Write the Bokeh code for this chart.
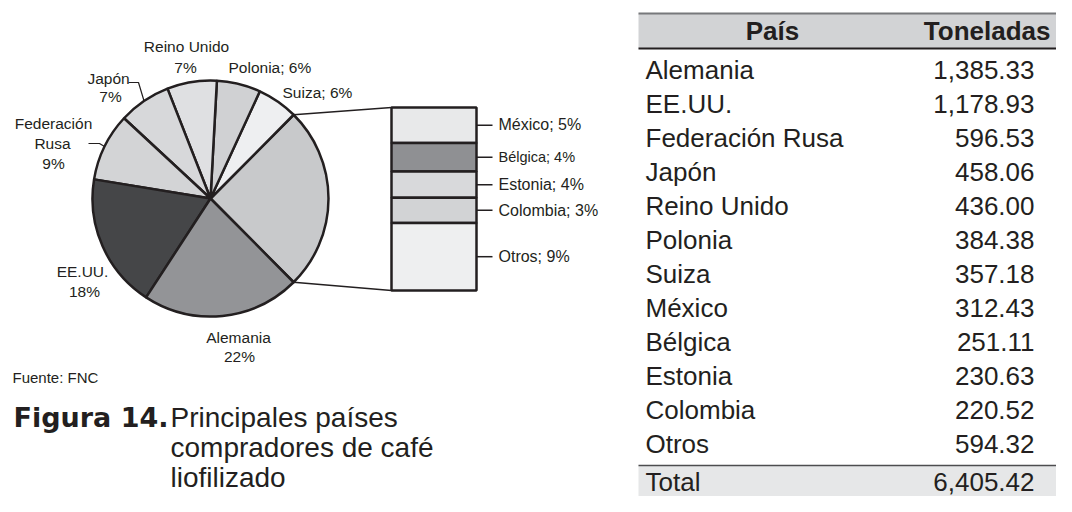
import math
from bokeh.plotting import figure
from bokeh.models import Range1d, ColumnDataSource
from bokeh.core.properties import value
from bokeh.embed import file_html
from bokeh.resources import INLINE

# ---------------- data ----------------
paises = ["Alemania", "EE.UU.", "Federación Rusa", "Japón", "Reino Unido", "Polonia",
          "Suiza", "México", "Bélgica", "Estonia", "Colombia", "Otros"]
toneladas = [1385.33, 1178.93, 596.53, 458.06, 436.00, 384.38,
             357.18, 312.43, 251.11, 230.63, 220.52, 594.32]
# slices of the pie, anticlockwise after the grouped slice
pie_paises = ["Suiza", "Polonia", "Reino Unido", "Japón", "Federación Rusa", "EE.UU.", "Alemania"]
# slices shown in the bar (top to bottom)
grupo_paises = ["México", "Bélgica", "Estonia", "Colombia", "Otros"]

pie_colors = {"grupo": "#c8c9cb", "Suiza": "#eeeff1", "Polonia": "#d0d1d3",
              "Reino Unido": "#dfe0e2", "Japón": "#d7d8da", "Federación Rusa": "#d3d4d6",
              "EE.UU.": "#454648", "Alemania": "#939497"}
bar_colors = {"México": "#e8e9ea", "Bélgica": "#8f9093", "Estonia": "#d8d9db",
              "Colombia": "#d2d3d5", "Otros": "#eeeff0"}

INK = "#231f20"
FONT = "Liberation Sans"

W, H = 1056, 496
p = figure(width=W, height=H, x_range=Range1d(0, W), y_range=Range1d(0, H),
           output_backend="svg", toolbar_location=None, min_border=0,
           x_axis_type=None, y_axis_type=None)
p.grid.visible = False
p.outline_line_color = None
p.background_fill_color = "white"
p.border_fill_color = "white"


def Y(ry):
    return H - ry


def txt(xs, caps, texts, size, align="left", bold=False, font=FONT):
    # y given at the cap centre of the text
    src = ColumnDataSource(dict(x=list(xs), y=[Y(c - 0.02 * size) for c in caps], t=list(texts)))
    p.text(x="x", y="y", text="t", source=src, text_font=value(font),
           text_font_size=f"{size}px", text_align=align, text_baseline="alphabetic",
           text_font_style="bold" if bold else "normal", text_color=INK)


val = dict(zip(paises, toneladas))
total = sum(toneladas)
pct = {k: round(v / total * 100) for k, v in val.items()}

# ---------------- pie ----------------
cx, cy, R = 210, Y(198), 118
grp = sum(val[n] for n in grupo_paises)
seq = [("grupo", grp)] + [(n, val[n]) for n in pie_paises]
a = -grp / total * math.pi
starts, ends, cols, mids = [], [], [], {}
for n, v in seq:
    da = v / total * 2 * math.pi
    starts.append(a)
    ends.append(a + da)
    cols.append(pie_colors[n])
    mids[n] = a + da / 2
    a += da
p.wedge(x=cx, y=cy, radius=R, start_angle=starts, end_angle=ends, fill_color=cols,
        line_color=INK, line_width=2.5, direction="anticlock")

# connectors to the bar
bx0, bx1, btop, bbot = 391, 476, 107, 290
ag = grp / total * math.pi
p.line([cx + R * math.cos(ag), bx0], [cy + R * math.sin(ag), Y(btop)], line_color=INK, line_width=1.6)
p.line([cx + R * math.cos(-ag), bx0], [cy + R * math.sin(-ag), Y(bbot)], line_color=INK, line_width=1.6)

# bar
gvals = [val[n] for n in grupo_paises]
h = bbot - btop
tops, bots, centers = [], [], []
acc = btop
for v in gvals:
    seg = v / grp * h
    tops.append(Y(acc))
    bots.append(Y(acc + seg))
    centers.append(acc + seg / 2)
    acc += seg
p.quad(left=bx0, right=bx1, top=tops, bottom=bots,
       fill_color=[bar_colors[n] for n in grupo_paises], line_color=INK, line_width=2.5)
p.segment(x0=[bx1] * len(centers), x1=[492] * len(centers),
          y0=[Y(c) for c in centers], y1=[Y(c) for c in centers], line_color=INK, line_width=1.5)
for n, c in zip(grupo_paises, centers):
    size = 14.5 if n == "Bélgica" else 16
    txt([498], [c], [f"{n}; {pct[n]}%"], size)

# pie labels
LS = 15.5
txt([186, 185], [46, 67], ["Reino Unido", f"{pct['Reino Unido']}%"], LS, align="center")
txt([228], [67], [f"Polonia; {pct['Polonia']}%"], LS)
txt([282], [92], [f"Suiza; {pct['Suiza']}%"], LS)
txt([108, 110], [78, 96], ["Japón", f"{pct['Japón']}%"], LS, align="center")
txt([53, 52, 53], [123, 143, 163], ["Federación", "Rusa", f"{pct['Federación Rusa']}%"], LS, align="center")
txt([82, 84], [271, 291], ["EE.UU.", f"{pct['EE.UU.']}%"], LS, align="center")
txt([238, 239], [337, 356], ["Alemania", f"{pct['Alemania']}%"], LS, align="center")

# leader lines
mj = mids["Japón"]
p.line([128, 138, cx + R * math.cos(mj)], [Y(82), Y(82), cy + R * math.sin(mj)], line_color=INK, line_width=1.2)
mr = mids["Federación Rusa"]
p.line([88, 99, cx + R * math.cos(mr)], [Y(143), Y(143), cy + R * math.sin(mr)], line_color=INK, line_width=1.2)

# source + caption
txt([12], [377], ["Fuente: FNC"], 15)
txt([13], [418], ["Figura 14."], 27, bold=True, font="DejaVu Sans")
txt([170, 170, 170], [418, 448, 478], ["Principales países", "compradores de café", "liofilizado"], 28)

# ---------------- table ----------------
tx0, tx1 = 638, W
p.quad(left=tx0, right=tx1, top=Y(13), bottom=Y(48), fill_color="#d2d3d5", line_color=None)
p.line([tx0, tx1], [Y(13), Y(13)], line_color="#77787b", line_width=2)
p.line([tx0, tx1], [Y(48), Y(48)], line_color=INK, line_width=2)
txt([772], [31], ["País"], 26, align="center", bold=True)
txt([1050], [31], ["Toneladas"], 26, align="right", bold=True)

row_caps = [70 + 34.0 * i for i in range(len(paises))]
txt([645] * len(paises), row_caps, paises, 26)
txt([1034] * len(paises), row_caps, [f"{v:,.2f}" for v in toneladas], 26, align="right")

line_y = row_caps[-1] + 21
p.quad(left=tx0, right=tx1, top=Y(line_y), bottom=Y(H), fill_color="#e6e7e8", line_color=None)
p.line([tx0, tx1], [Y(line_y), Y(line_y)], line_color="#4d4d4f", line_width=1.5)
txt([645], [line_y + 17], ["Total"], 26)
txt([1034], [line_y + 17], [f"{total:,.2f}"], 26, align="right")

open("out.html", "w").write(file_html(p, INLINE))
